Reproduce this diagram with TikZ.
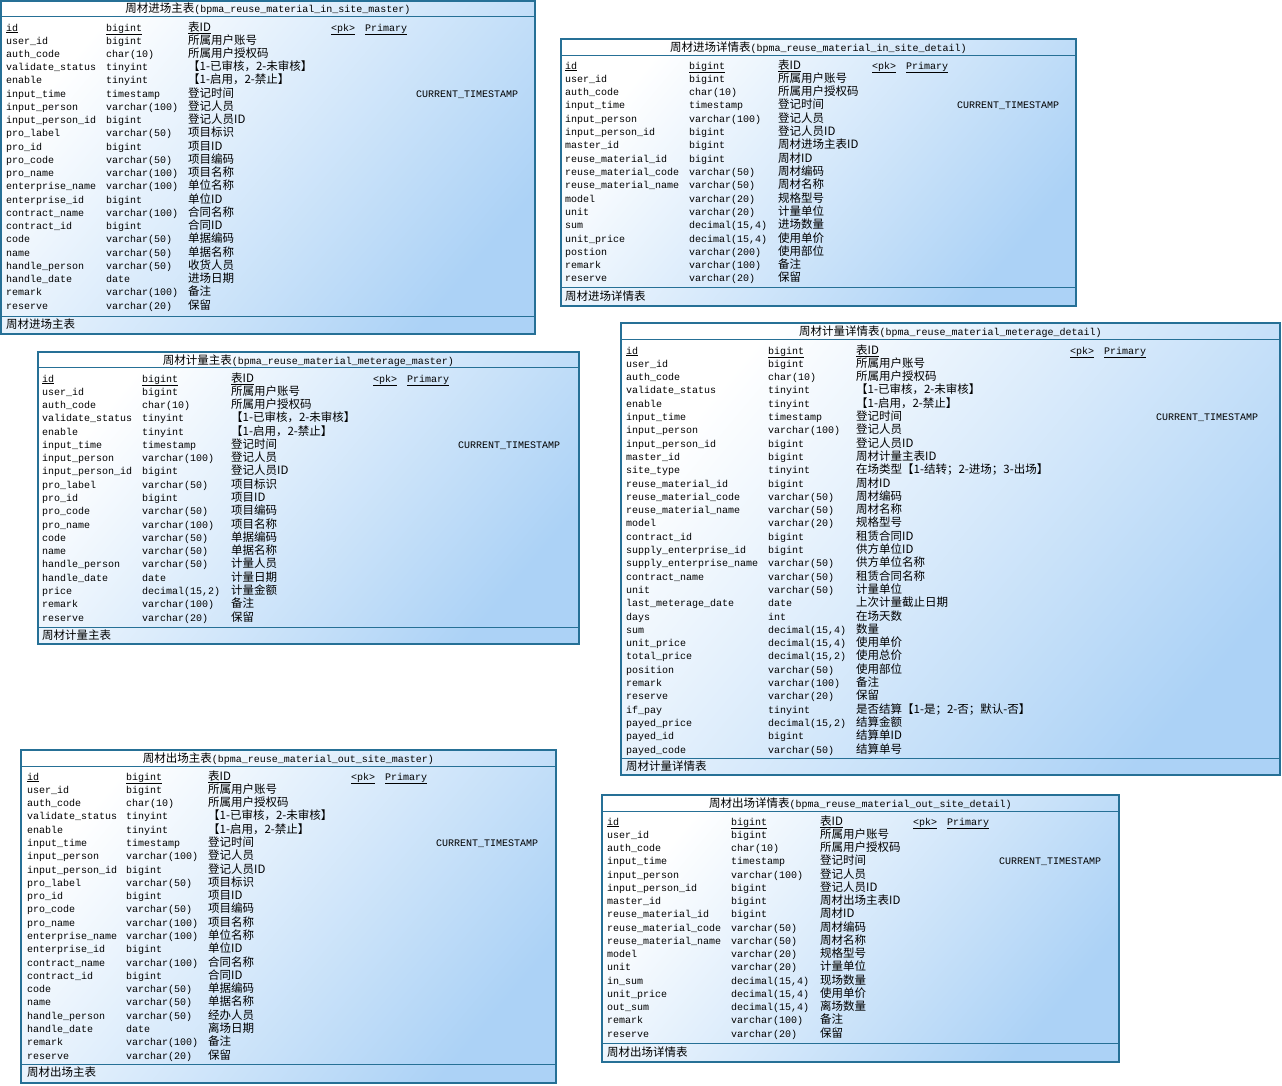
\documentclass[tikz,border=0pt]{standalone}
\usepackage{fontspec}
\setmonofont{Liberation Mono}
\newfontfamily\cjk{Noto Sans CJK SC}[Scale=1.15]
\usepackage{tikz}
\usepackage{xcolor}
\definecolor{tblborder}{RGB}{38,112,150}
\definecolor{tblfill}{RGB}{172,210,246}

\begin{document}
\catcode`\_=12
\begin{tikzpicture}[x=1pt, y=-1pt,
    tbl/.style={draw=tblborder, line width=1.2pt, top color=white, bottom color=tblfill, shading angle=50, inner sep=0pt},
    sep/.style={draw=tblborder, line width=1pt},
    ttl/.style={inner sep=0pt, anchor=base, font=\ttfamily\fontsize{10}{12}\selectfont},
    fld/.style={inner sep=0pt, anchor=base west, font=\ttfamily\fontsize{10}{12}\selectfont},
    cmt/.style={fld, font=\cjk\fontsize{10}{12}\selectfont}]
                \useasboundingbox (0,0) rectangle (1282,1085);

                % 周材进场主表
                \def\xa{6}\def\xb{106}\def\xc{188}\def\yy{31}\def\dy{13.24}
                \node[tbl, minimum width=534, minimum height=333] (inm) at (268,167.5) {};
                \node[ttl] (inm-title) at (268,12) {{\cjk 周材进场主表}(bpma_reuse_material_in_site_master)};
                \draw[sep] ([yshift=-16pt]inm.north west) -- ([yshift=-16pt]inm.north east);
                \draw[sep] ([yshift=18pt]inm.south west) -- ([yshift=18pt]inm.south east);
                \node[cmt] (inm-foot) at (\xa,328) {周材进场主表};
                \node[fld] (inm-n0) at (\xa,\yy) {\underline{id}};
                \node[fld] (inm-t0) at (\xb,\yy) {\underline{bigint}};
                \node[cmt] (inm-c0) at (\xc,\yy) {\underline{表ID}};
                \node[fld] (inm-pk) at (331,\yy) {\underline{<pk>}};
                \node[fld] (inm-pri) at (365,\yy) {\underline{Primary}};
                \foreach \fn/\ft/\fc [count=\j] in {user_id/bigint/所属用户账号, auth_code/char(10)/所属用户授权码,
                    validate_status/tinyint/【1-已审核，2-未审核】, enable/tinyint/【1-启用，2-禁止】,
                    input_time/timestamp/登记时间, input_person/varchar(100)/登记人员, input_person_id/bigint/登记人员ID,
                    pro_label/varchar(50)/项目标识, pro_id/bigint/项目ID, pro_code/varchar(50)/项目编码,
                    pro_name/varchar(100)/项目名称, enterprise_name/varchar(100)/单位名称, enterprise_id/bigint/单位ID,
                    contract_name/varchar(100)/合同名称, contract_id/bigint/合同ID, code/varchar(50)/单据编码,
                    name/varchar(50)/单据名称, handle_person/varchar(50)/收货人员, handle_date/date/进场日期,
                    remark/varchar(100)/备注, reserve/varchar(20)/保留} {
                    \node[fld] (inm-n\j) at (\xa,{\yy+\dy*\j}) {\fn};
                    \node[fld] (inm-t\j) at (\xb,{\yy+\dy*\j}) {\ft};
                    \node[cmt] (inm-c\j) at (\xc,{\yy+\dy*\j}) {\fc};
                }
                \node[fld] (inm-ts) at (416,{\yy+\dy*5}) {CURRENT_TIMESTAMP};

                % 周材进场详情表
                \def\xa{565}\def\xb{689}\def\xc{778}\def\yy{69}\def\dy{13.31}
                \node[tbl, minimum width=515, minimum height=267] (ind) at (818.5,172.5) {};
                \node[ttl] (ind-title) at (818.5,51) {{\cjk 周材进场详情表}(bpma_reuse_material_in_site_detail)};
                \draw[sep] ([yshift=-17pt]ind.north west) -- ([yshift=-17pt]ind.north east);
                \draw[sep] ([yshift=19pt]ind.south west) -- ([yshift=19pt]ind.south east);
                \node[cmt] (ind-foot) at (\xa,300) {周材进场详情表};
                \node[fld] (ind-n0) at (\xa,\yy) {\underline{id}};
                \node[fld] (ind-t0) at (\xb,\yy) {\underline{bigint}};
                \node[cmt] (ind-c0) at (\xc,\yy) {\underline{表ID}};
                \node[fld] (ind-pk) at (872,\yy) {\underline{<pk>}};
                \node[fld] (ind-pri) at (906,\yy) {\underline{Primary}};
                \foreach \fn/\ft/\fc [count=\j] in {user_id/bigint/所属用户账号, auth_code/char(10)/所属用户授权码,
                    input_time/timestamp/登记时间, input_person/varchar(100)/登记人员, input_person_id/bigint/登记人员ID,
                    master_id/bigint/周材进场主表ID, reuse_material_id/bigint/周材ID,
                    reuse_material_code/varchar(50)/周材编码, reuse_material_name/varchar(50)/周材名称,
                    model/varchar(20)/规格型号, unit/varchar(20)/计量单位, sum/{decimal(15,4)}/进场数量,
                    unit_price/{decimal(15,4)}/使用单价, postion/varchar(200)/使用部位,
                    remark/varchar(100)/备注, reserve/varchar(20)/保留} {
                    \node[fld] (ind-n\j) at (\xa,{\yy+\dy*\j}) {\fn};
                    \node[fld] (ind-t\j) at (\xb,{\yy+\dy*\j}) {\ft};
                    \node[cmt] (ind-c\j) at (\xc,{\yy+\dy*\j}) {\fc};
                }
                \node[fld] (ind-ts) at (957,{\yy+\dy*3}) {CURRENT_TIMESTAMP};

                % 周材计量主表
                \def\xa{42}\def\xb{142}\def\xc{231}\def\yy{382}\def\dy{13.28}
                \node[tbl, minimum width=541, minimum height=292] (mtm) at (308.5,498) {};
                \node[ttl] (mtm-title) at (308.5,364) {{\cjk 周材计量主表}(bpma_reuse_material_meterage_master)};
                \draw[sep] ([yshift=-16pt]mtm.north west) -- ([yshift=-16pt]mtm.north east);
                \draw[sep] ([yshift=17pt]mtm.south west) -- ([yshift=17pt]mtm.south east);
                \node[cmt] (mtm-foot) at (\xa,639) {周材计量主表};
                \node[fld] (mtm-n0) at (\xa,\yy) {\underline{id}};
                \node[fld] (mtm-t0) at (\xb,\yy) {\underline{bigint}};
                \node[cmt] (mtm-c0) at (\xc,\yy) {\underline{表ID}};
                \node[fld] (mtm-pk) at (373,\yy) {\underline{<pk>}};
                \node[fld] (mtm-pri) at (407,\yy) {\underline{Primary}};
                \foreach \fn/\ft/\fc [count=\j] in {user_id/bigint/所属用户账号, auth_code/char(10)/所属用户授权码,
                    validate_status/tinyint/【1-已审核，2-未审核】, enable/tinyint/【1-启用，2-禁止】,
                    input_time/timestamp/登记时间, input_person/varchar(100)/登记人员, input_person_id/bigint/登记人员ID,
                    pro_label/varchar(50)/项目标识, pro_id/bigint/项目ID, pro_code/varchar(50)/项目编码,
                    pro_name/varchar(100)/项目名称, code/varchar(50)/单据编码, name/varchar(50)/单据名称,
                    handle_person/varchar(50)/计量人员, handle_date/date/计量日期, price/{decimal(15,2)}/计量金额,
                    remark/varchar(100)/备注, reserve/varchar(20)/保留} {
                    \node[fld] (mtm-n\j) at (\xa,{\yy+\dy*\j}) {\fn};
                    \node[fld] (mtm-t\j) at (\xb,{\yy+\dy*\j}) {\ft};
                    \node[cmt] (mtm-c\j) at (\xc,{\yy+\dy*\j}) {\fc};
                }
                \node[fld] (mtm-ts) at (458,{\yy+\dy*5}) {CURRENT_TIMESTAMP};

                % 周材计量详情表
                \def\xa{626}\def\xb{768}\def\xc{856}\def\yy{354}\def\dy{13.3}
                \node[tbl, minimum width=659, minimum height=452] (mtd) at (950.5,549) {};
                \node[ttl] (mtd-title) at (950.5,335) {{\cjk 周材计量详情表}(bpma_reuse_material_meterage_detail)};
                \draw[sep] ([yshift=-17pt]mtd.north west) -- ([yshift=-17pt]mtd.north east);
                \draw[sep] ([yshift=17pt]mtd.south west) -- ([yshift=17pt]mtd.south east);
                \node[cmt] (mtd-foot) at (\xa,770) {周材计量详情表};
                \node[fld] (mtd-n0) at (\xa,\yy) {\underline{id}};
                \node[fld] (mtd-t0) at (\xb,\yy) {\underline{bigint}};
                \node[cmt] (mtd-c0) at (\xc,\yy) {\underline{表ID}};
                \node[fld] (mtd-pk) at (1070,\yy) {\underline{<pk>}};
                \node[fld] (mtd-pri) at (1104,\yy) {\underline{Primary}};
                \foreach \fn/\ft/\fc [count=\j] in {user_id/bigint/所属用户账号, auth_code/char(10)/所属用户授权码,
                    validate_status/tinyint/【1-已审核，2-未审核】, enable/tinyint/【1-启用，2-禁止】,
                    input_time/timestamp/登记时间, input_person/varchar(100)/登记人员, input_person_id/bigint/登记人员ID,
                    master_id/bigint/周材计量主表ID, site_type/tinyint/在场类型【1-结转；2-进场；3-出场】,
                    reuse_material_id/bigint/周材ID, reuse_material_code/varchar(50)/周材编码,
                    reuse_material_name/varchar(50)/周材名称, model/varchar(20)/规格型号,
                    contract_id/bigint/租赁合同ID, supply_enterprise_id/bigint/供方单位ID,
                    supply_enterprise_name/varchar(50)/供方单位名称, contract_name/varchar(50)/租赁合同名称,
                    unit/varchar(50)/计量单位, last_meterage_date/date/上次计量截止日期, days/int/在场天数,
                    sum/{decimal(15,4)}/数量, unit_price/{decimal(15,4)}/使用单价, total_price/{decimal(15,2)}/使用总价,
                    position/varchar(50)/使用部位, remark/varchar(100)/备注, reserve/varchar(20)/保留,
                    if_pay/tinyint/是否结算【1-是；2-否；默认-否】, payed_price/{decimal(15,2)}/结算金额,
                    payed_id/bigint/结算单ID, payed_code/varchar(50)/结算单号} {
                    \node[fld] (mtd-n\j) at (\xa,{\yy+\dy*\j}) {\fn};
                    \node[fld] (mtd-t\j) at (\xb,{\yy+\dy*\j}) {\ft};
                    \node[cmt] (mtd-c\j) at (\xc,{\yy+\dy*\j}) {\fc};
                }
                \node[fld] (mtd-ts) at (1156,{\yy+\dy*5}) {CURRENT_TIMESTAMP};

                % 周材出场主表
                \def\xa{27}\def\xb{126}\def\xc{208}\def\yy{780}\def\dy{13.29}
                \node[tbl, minimum width=535, minimum height=333] (outm) at (288.5,916.5) {};
                \node[ttl] (outm-title) at (288.5,762) {{\cjk 周材出场主表}(bpma_reuse_material_out_site_master)};
                \draw[sep] ([yshift=-17pt]outm.north west) -- ([yshift=-17pt]outm.north east);
                \draw[sep] ([yshift=19pt]outm.south west) -- ([yshift=19pt]outm.south east);
                \node[cmt] (outm-foot) at (\xa,1076) {周材出场主表};
                \node[fld] (outm-n0) at (\xa,\yy) {\underline{id}};
                \node[fld] (outm-t0) at (\xb,\yy) {\underline{bigint}};
                \node[cmt] (outm-c0) at (\xc,\yy) {\underline{表ID}};
                \node[fld] (outm-pk) at (351,\yy) {\underline{<pk>}};
                \node[fld] (outm-pri) at (385,\yy) {\underline{Primary}};
                \foreach \fn/\ft/\fc [count=\j] in {user_id/bigint/所属用户账号, auth_code/char(10)/所属用户授权码,
                    validate_status/tinyint/【1-已审核，2-未审核】, enable/tinyint/【1-启用，2-禁止】,
                    input_time/timestamp/登记时间, input_person/varchar(100)/登记人员, input_person_id/bigint/登记人员ID,
                    pro_label/varchar(50)/项目标识, pro_id/bigint/项目ID, pro_code/varchar(50)/项目编码,
                    pro_name/varchar(100)/项目名称, enterprise_name/varchar(100)/单位名称, enterprise_id/bigint/单位ID,
                    contract_name/varchar(100)/合同名称, contract_id/bigint/合同ID, code/varchar(50)/单据编码,
                    name/varchar(50)/单据名称, handle_person/varchar(50)/经办人员, handle_date/date/离场日期,
                    remark/varchar(100)/备注, reserve/varchar(20)/保留} {
                    \node[fld] (outm-n\j) at (\xa,{\yy+\dy*\j}) {\fn};
                    \node[fld] (outm-t\j) at (\xb,{\yy+\dy*\j}) {\ft};
                    \node[cmt] (outm-c\j) at (\xc,{\yy+\dy*\j}) {\fc};
                }
                \node[fld] (outm-ts) at (436,{\yy+\dy*5}) {CURRENT_TIMESTAMP};

                % 周材出场详情表
                \def\xa{607}\def\xb{731}\def\xc{820}\def\yy{825}\def\dy{13.25}
                \node[tbl, minimum width=517, minimum height=267] (outd) at (860.5,928.5) {};
                \node[ttl] (outd-title) at (860.5,807) {{\cjk 周材出场详情表}(bpma_reuse_material_out_site_detail)};
                \draw[sep] ([yshift=-17pt]outd.north west) -- ([yshift=-17pt]outd.north east);
                \draw[sep] ([yshift=19pt]outd.south west) -- ([yshift=19pt]outd.south east);
                \node[cmt] (outd-foot) at (\xa,1056) {周材出场详情表};
                \node[fld] (outd-n0) at (\xa,\yy) {\underline{id}};
                \node[fld] (outd-t0) at (\xb,\yy) {\underline{bigint}};
                \node[cmt] (outd-c0) at (\xc,\yy) {\underline{表ID}};
                \node[fld] (outd-pk) at (913,\yy) {\underline{<pk>}};
                \node[fld] (outd-pri) at (947,\yy) {\underline{Primary}};
                \foreach \fn/\ft/\fc [count=\j] in {user_id/bigint/所属用户账号, auth_code/char(10)/所属用户授权码,
                    input_time/timestamp/登记时间, input_person/varchar(100)/登记人员, input_person_id/bigint/登记人员ID,
                    master_id/bigint/周材出场主表ID, reuse_material_id/bigint/周材ID,
                    reuse_material_code/varchar(50)/周材编码, reuse_material_name/varchar(50)/周材名称,
                    model/varchar(20)/规格型号, unit/varchar(20)/计量单位, in_sum/{decimal(15,4)}/现场数量,
                    unit_price/{decimal(15,4)}/使用单价, out_sum/{decimal(15,4)}/离场数量,
                    remark/varchar(100)/备注, reserve/varchar(20)/保留} {
                    \node[fld] (outd-n\j) at (\xa,{\yy+\dy*\j}) {\fn};
                    \node[fld] (outd-t\j) at (\xb,{\yy+\dy*\j}) {\ft};
                    \node[cmt] (outd-c\j) at (\xc,{\yy+\dy*\j}) {\fc};
                }
                \node[fld] (outd-ts) at (999,{\yy+\dy*3}) {CURRENT_TIMESTAMP};
            \end{tikzpicture}
\end{document}
